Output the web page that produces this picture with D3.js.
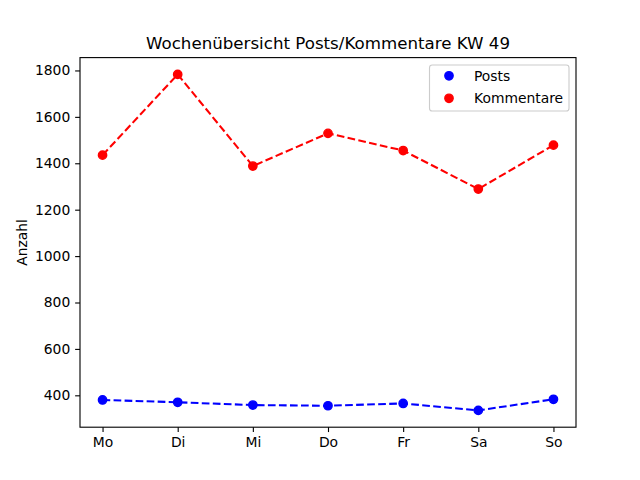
<!DOCTYPE html>
<html><head><meta charset="utf-8">
<script src="https://cdn.jsdelivr.net/npm/d3@7"></script>
<style>body{margin:0;background:#fff}svg{display:block}text{font-family:"DejaVu Sans",sans-serif;fill:#000}</style>
</head><body><svg id="c" width="640" height="480"></svg>
<script>
const days = ["Mo","Di","Mi","Do","Fr","Sa","So"];
const posts = [380, 370, 358, 355, 365, 335, 383];
const kommentare = [1435, 1783, 1388, 1529, 1455, 1289, 1478];
const yTicks = [400, 600, 800, 1000, 1200, 1400, 1600, 1800];
const seriesNames = ["Posts", "Kommentare"];
const seriesColors = ["#0000ff", "#ff0000"];
const title = "Wochenübersicht Posts/Kommentare KW 49";
const yLabel = "Anzahl";

const svg = d3.select("#c");
const L = 80, R = 576, T = 57.6, B = 427.2;
const all = posts.concat(kommentare);
const mn = d3.min(all), mx = d3.max(all), rg = mx - mn;
const x = d3.scaleLinear().domain([-0.3, days.length - 1 + 0.3]).range([L, R]);
const y = d3.scaleLinear().domain([mn - 0.05*rg, mx + 0.05*rg]).range([B, T]);

const series = [posts, kommentare];
const line = d3.line().x((d,i) => x(i)).y(d => y(d));
series.forEach((s, k) => {
  svg.append("path").datum(s).attr("d", line).attr("fill","none")
    .attr("stroke", seriesColors[k]).attr("stroke-width",2.08)
    .attr("stroke-dasharray","7.7,3.33");
  svg.append("g").selectAll("circle").data(s).join("circle")
    .attr("cx",(d,i)=>x(i)).attr("cy",d=>y(d)).attr("r",4.17).attr("fill",seriesColors[k])
    .attr("stroke",seriesColors[k]).attr("stroke-width",1.39);
});

const xAxis = d3.axisBottom(x).tickValues(d3.range(days.length)).tickFormat(i=>days[i]).tickSizeOuter(0).tickSize(4.86).tickPadding(4.86);
const gx = svg.append("g").attr("transform",`translate(0,${B})`).call(xAxis);
const yAxis = d3.axisLeft(y).tickValues(yTicks).tickFormat(d3.format("d")).tickSizeOuter(0).tickSize(4.86).tickPadding(4.86);
const gy = svg.append("g").attr("transform",`translate(${L},0)`).call(yAxis);
[gx,gy].forEach(g=>{
  g.select(".domain").remove();
  g.selectAll(".tick line").attr("stroke","#000").attr("stroke-width",1.11);
  g.selectAll(".tick text").attr("font-size","13.89px").attr("font-family","DejaVu Sans");
});
svg.append("rect").attr("x",L).attr("y",T).attr("width",R-L).attr("height",B-T)
  .attr("fill","none").attr("stroke","#000").attr("stroke-width",1.11);

svg.append("text").attr("x",(L+R)/2).attr("y",T-8.9).attr("text-anchor","middle")
  .attr("font-size","16.67px").text(title);
svg.append("text").attr("transform",`translate(27,${(T+B)/2}) rotate(-90)`)
  .attr("text-anchor","middle").attr("font-size","13.89px").text(yLabel);

// legend
const lg = svg.append("g");
lg.append("rect").attr("x",429.5).attr("y",65).attr("width",139.5).attr("height",46)
  .attr("rx",2.8).attr("fill","#fff").attr("fill-opacity",0.8).attr("stroke","#cccccc").attr("stroke-width",1.11);
seriesNames.forEach((n,k)=>{
  const yy = 75.8 + k*22.5;
  lg.append("circle").attr("cx",449).attr("cy",yy).attr("r",4.17).attr("fill",seriesColors[k])
    .attr("stroke",seriesColors[k]).attr("stroke-width",1.39);
  lg.append("text").attr("x",474).attr("y",yy).attr("dy","0.35em").attr("font-size","13.89px").text(n);
});
</script></body></html>
